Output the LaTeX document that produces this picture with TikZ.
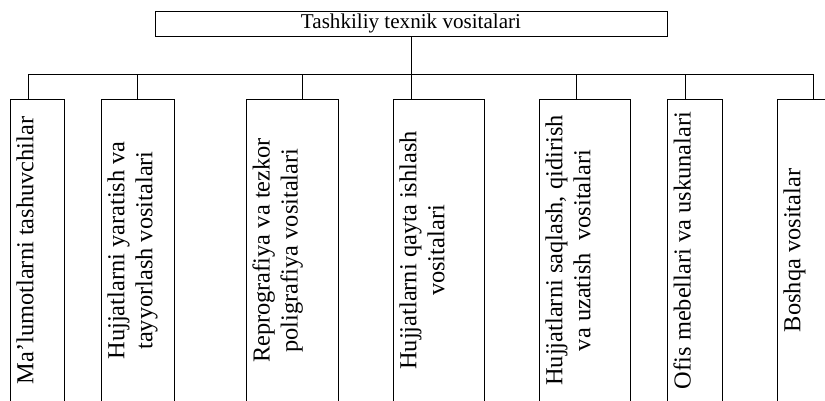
\documentclass[tikz,border=0pt]{standalone}
\usepackage{fontspec}
\setmainfont{Liberation Serif}
\begin{document}
\begin{tikzpicture}[x=1pt,y=-1pt,
    line width=0.9pt,
    topbox/.style={draw,minimum width=512pt,minimum height=25pt,inner sep=0pt,
        font=\fontsize{21.1}{25}\selectfont},
    itembox/.style={draw,minimum height=303pt,inner sep=0pt},
    itemtext/.style={rotate=90,anchor=north,align=center,inner sep=6.5pt,
        font=\fontsize{24.4}{28}\selectfont}]
    \useasboundingbox (0,0) rectangle (825,400);
    \clip (0,0) rectangle (825,400);
    % top box
    \node[topbox] (top) at (411,23.5) {Tashkiliy texnik vositalari};
    % bus and drops
    \coordinate (d1) at (28,74);
    \coordinate (d2) at (137,74);
    \coordinate (d3) at (302,74);
    \coordinate (d4) at (411,74);
    \coordinate (d5) at (576,74);
    \coordinate (d6) at (685,74);
    \coordinate (d7) at (813,74);
    \draw (top.south)--(d4);
    \draw (d1)--(d7);
    % boxes
    \node[itembox,minimum width=54pt] (b1) at (37,250.5) {};
    \node[itembox,minimum width=73pt] (b2) at (137.5,250.5) {};
    \node[itembox,minimum width=92pt] (b3) at (292,250.5) {};
    \node[itembox,minimum width=91pt] (b4) at (438.5,250.5) {};
    \node[itembox,minimum width=91pt] (b5) at (584.5,250.5) {};
    \node[itembox,minimum width=55pt] (b6) at (694.5,250.5) {};
    \node[itembox,minimum width=72pt] (b7) at (813,250.5) {};
    \draw (d1)--(d1 |- b1.north);
    \draw (d2)--(d2 |- b2.north);
    \draw (d3)--(d3 |- b3.north);
    \draw (d4)--(d4 |- b4.north);
    \draw (d5)--(d5 |- b5.north);
    \draw (d6)--(d6 |- b6.north);
    \draw (d7)--(d7 |- b7.north);
    % texts
    \node[itemtext] (t1) at (b1.west) {Ma’lumotlarni tashuvchilar};
    \node[itemtext] (t2) at (b2.west) {Hujjatlarni yaratish va\\tayyorlash vositalari};
    \node[itemtext] (t3) at (b3.west) {Reprografiya va tezkor\\poligrafiya vositalari};
    \node[itemtext] (t4) at (b4.west) {Hujjatlarni qayta ishlash\\vositalari};
    \node[itemtext] (t5) at (b5.west) {Hujjatlarni saqlash, qidirish\\va uzatish~ vositalari};
    \node[itemtext] (t6) at (b6.west) {Ofis mebellari va uskunalari};
    \node[itemtext] (t7) at (b7.west) {Boshqa vositalar};
\end{tikzpicture}
\end{document}
